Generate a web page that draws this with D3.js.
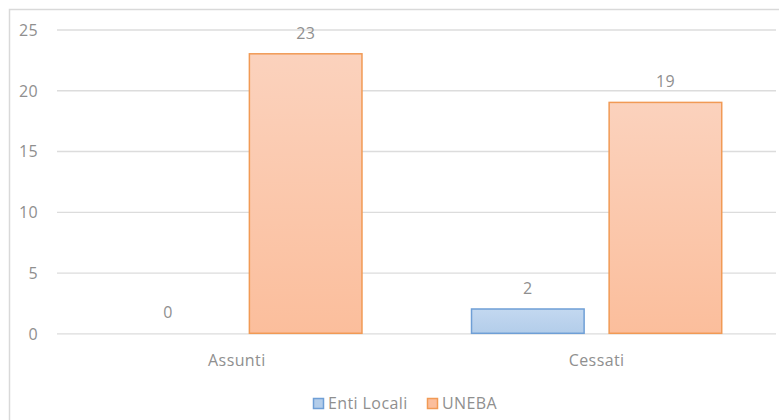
<!DOCTYPE html>
<html>
<head>
<meta charset="utf-8">
<script src="https://cdn.jsdelivr.net/npm/d3@7"></script>
<style>
  body { margin: 0; background: #fff; }
  text { font-family: "Open Sans", Lato, sans-serif; letter-spacing: 0.4px; }
</style>
</head>
<body>
<script>
const w = 779;
const h = 420;

// data
const categories = ["Assunti", "Cessati"];
const series = ["Enti Locali", "UNEBA"];
const entiLocali = [0, 2];
const uneba = [23, 19];
const yTicks = [0, 5, 10, 15, 20, 25];

const values = [entiLocali, uneba];
const rows = [];
categories.forEach((c, i) => {
  series.forEach((s, j) => rows.push({ cat: c, series: s, value: values[j][i] }));
});

const colors = {
  "Enti Locali": { top: "#c3d8f0", bottom: "#b3cdea", stroke: "#6f9fd6" },
  "UNEBA": { top: "#fbd2bd", bottom: "#fbbe9c", stroke: "#f19a55" }
};

const svg = d3.select("body")
  .append("svg")
  .attr("width", w)
  .attr("height", h);

// gradients for bar fills
const defs = svg.append("defs");
series.forEach((s, i) => {
  const g = defs.append("linearGradient")
    .attr("id", "grad" + i)
    .attr("x1", 0).attr("y1", 0).attr("x2", 0).attr("y2", 1);
  g.append("stop").attr("offset", "0%").attr("stop-color", colors[s].top);
  g.append("stop").attr("offset", "100%").attr("stop-color", colors[s].bottom);
});

// chart border
svg.append("rect")
  .attr("x", 9.5)
  .attr("y", 9.5)
  .attr("width", w + 10)
  .attr("height", h + 10)
  .style("fill", "none")
  .style("stroke", "#d9d9d9")
  .style("stroke-width", 1.5);

const x0 = d3.scaleBand()
  .domain(categories)
  .range([57, 776.5]);

const x1 = d3.scaleBand()
  .domain(series)
  .range([0, x0.bandwidth()])
  .paddingInner(0.1818)
  .paddingOuter(0.398);

const y = d3.scaleLinear()
  .domain([0, 25])
  .range([333.3, 29.5]);

// gridlines
const yAxis = d3.axisLeft(y)
  .tickValues(yTicks)
  .tickSize(-(776 - 57))
  .tickPadding(19)
  .tickFormat(d3.format("d"));

const gy = svg.append("g")
  .attr("transform", "translate(57, 0)")
  .call(yAxis);
gy.select(".domain").remove();
gy.selectAll(".tick line")
  .style("stroke", "#dcdcdc")
  .style("stroke-width", 1.3);
gy.selectAll(".tick text")
  .style("fill", "#8f8f8f")
  .style("font-size", "16px")
  .attr("dy", "0.36em");

// bars
const groups = svg.selectAll(".grp")
  .data(rows)
  .enter()
  .append("g")
  .attr("class", "grp");

groups.filter(d => d.value > 0)
  .append("rect")
  .attr("x", d => x0(d.cat) + x1(d.series))
  .attr("y", d => y(d.value))
  .attr("width", x1.bandwidth())
  .attr("height", d => y(0) - y(d.value))
  .style("fill", d => "url(#grad" + series.indexOf(d.series) + ")")
  .style("stroke", d => colors[d.series].stroke)
  .style("stroke-width", 1.5);

// data labels
groups.append("text")
  .attr("x", d => x0(d.cat) + x1(d.series) + x1.bandwidth() / 2)
  .attr("y", d => y(d.value) - 15)
  .attr("text-anchor", "middle")
  .style("fill", "#8f8f8f")
  .style("font-size", "16px")
  .text(d => d.value);

// category labels
svg.selectAll(".cat")
  .data(categories)
  .enter()
  .append("text")
  .attr("class", "cat")
  .attr("x", d => x0(d) + x0.bandwidth() / 2)
  .attr("y", 366)
  .attr("text-anchor", "middle")
  .style("fill", "#8f8f8f")
  .style("font-size", "16px")
  .text(d => d);

// legend
const legendX = [313, 427];
const legend = svg.selectAll(".leg")
  .data(series)
  .enter()
  .append("g")
  .attr("class", "leg")
  .attr("transform", (d, i) => "translate(" + legendX[i] + ", 398)");

legend.append("rect")
  .attr("x", 0.5)
  .attr("y", 0.5)
  .attr("width", 10)
  .attr("height", 10)
  .style("fill", d => colors[d].bottom)
  .style("stroke", d => colors[d].stroke)
  .style("stroke-width", 1.5);

legend.append("text")
  .attr("x", 15)
  .attr("y", 11)
  .style("fill", "#8f8f8f")
  .style("font-size", "16px")
  .text(d => d);
</script>
</body>
</html>
